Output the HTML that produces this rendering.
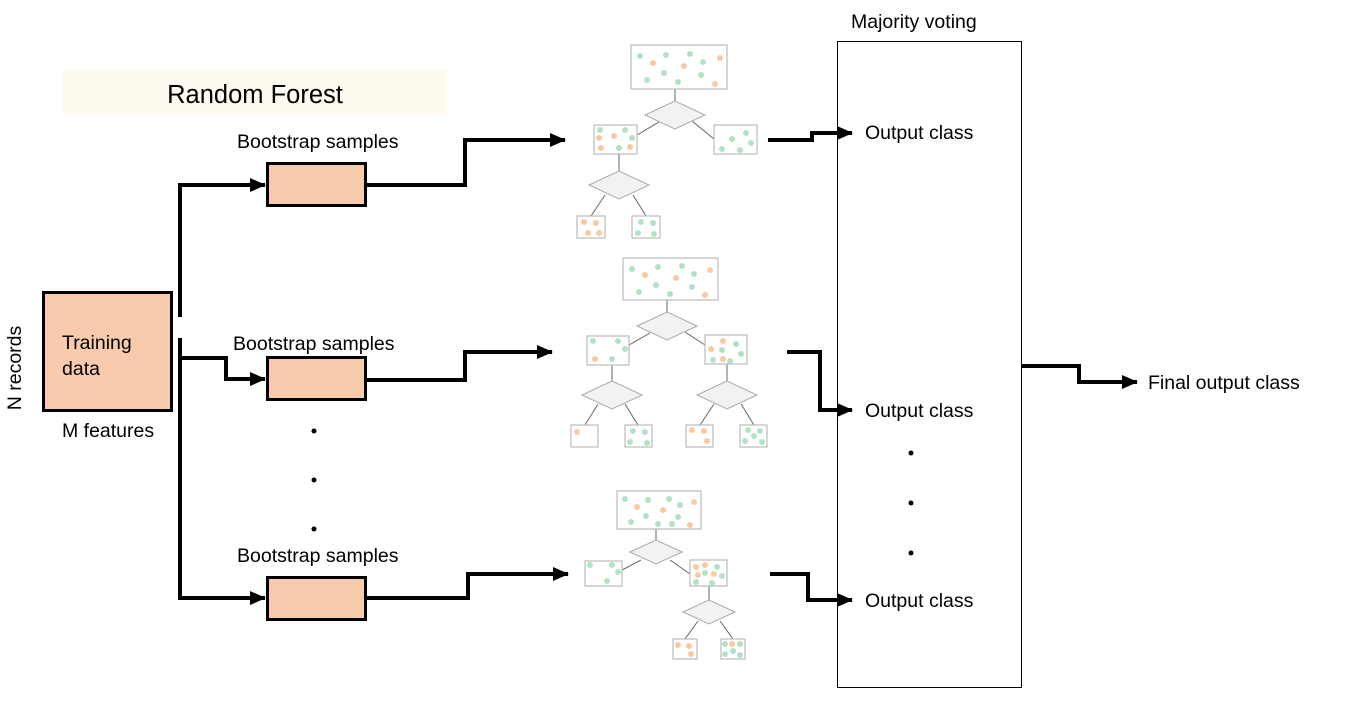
<!DOCTYPE html>
<html><head><meta charset="utf-8"><style>
html,body{margin:0;padding:0;background:#fff;}
svg{display:block;}
text{font-family:"Liberation Sans",sans-serif;fill:#000;}
.t{font-size:19.5px;}
</style></head><body>
<svg width="1369" height="719" viewBox="0 0 1369 719" xmlns="http://www.w3.org/2000/svg">
<defs>
<marker id="ah2" markerWidth="16" markerHeight="14" refX="15" refY="7" orient="auto" markerUnits="userSpaceOnUse">
<path d="M0,0 L16,7 L0,14 z" fill="#000"/></marker>
</defs>

<rect x="62" y="70" width="385" height="45" fill="#fffaf0"/>
<text x="255" y="103" font-size="25.5" text-anchor="middle">Random Forest</text>

<rect x="43.5" y="292.5" width="128" height="118" fill="#f8cbad" stroke="#000" stroke-width="3"/>
<text x="62" y="349" class="t">Training</text>
<text x="62" y="375" class="t">data</text>
<text x="62" y="437" class="t">M features</text>
<text transform="translate(21,368) rotate(-90)" class="t" text-anchor="middle">N records</text>

<g fill="none" stroke="#000" stroke-width="4">
<path d="M180,317 V185 H265" marker-end="url(#ah2)"/>
<path d="M180,338 V598 H265" marker-end="url(#ah2)"/>
<path d="M180,358 H226 V379 H265" marker-end="url(#ah2)"/>
<path d="M366,185 H465 V140 H565" marker-end="url(#ah2)"/>
<path d="M366,380 H465 V352 H552" marker-end="url(#ah2)"/>
<path d="M366,598 H468 V574 H568" marker-end="url(#ah2)"/>
<path d="M768,140 H812 V133 H852" marker-end="url(#ah2)"/>
<path d="M787,352 H820 V410 H852" marker-end="url(#ah2)"/>
<path d="M770,574 H808 V600 H852" marker-end="url(#ah2)"/>
<path d="M1022,366 H1079 V382 H1137" marker-end="url(#ah2)"/>
</g>

<g fill="#f8cbad" stroke="#000" stroke-width="3">
<rect x="267.5" y="163.5" width="98" height="42"/>
<rect x="267.5" y="357.5" width="98" height="42"/>
<rect x="267.5" y="577.5" width="98" height="42"/>
</g>
<text x="237" y="148" class="t">Bootstrap samples</text>
<text x="233" y="350" class="t">Bootstrap samples</text>
<text x="237" y="562" class="t">Bootstrap samples</text>

<g fill="#000">
<circle cx="314" cy="431" r="2.5"/><circle cx="314" cy="480" r="2.5"/><circle cx="314" cy="529" r="2.5"/>
<circle cx="911" cy="453" r="2.5"/><circle cx="911" cy="503" r="2.5"/><circle cx="911" cy="553" r="2.5"/>
</g>

<rect x="837.5" y="41.5" width="184" height="646" fill="none" stroke="#000" stroke-width="1"/>
<text x="851" y="28" class="t">Majority voting</text>
<text x="865" y="139" class="t">Output class</text>
<text x="865" y="417" class="t">Output class</text>
<text x="865" y="607" class="t">Output class</text>
<text x="1148" y="389" class="t">Final output class</text>

<g stroke="#666" stroke-width="1" fill="none">
<path d="M675,89 V101 M659,122 L637,135 M692,121 L714,139 M619,154 V171 M605,195 L591,216 M633,195 L646,216"/>
<path d="M667,300 V312 M650,333 L629,345 M685,332 L705,345 M612,365 V381 M727,364 V381 M598,404 L585,425 M625,404 L638,425 M714,404 L700,425 M741,404 L754,425"/>
<path d="M656,529 V540 M641,560 L622,570 M670,560 L690,574 M709,586 V600 M698,621 L685,639 M720,621 L733,639"/>
</g>
<g fill="#f2f2f2" stroke="#aaa" stroke-width="1">
<polygon points="645,115 675,101 705,115 675,129"/>
<polygon points="589,185 619,171 649,185 619,199"/>
<polygon points="637,326 667,312 697,326 667,340"/>
<polygon points="582,395 612,381 642,395 612,409"/>
<polygon points="697,395 727,381 757,395 727,409"/>
<polygon points="630,552 656,540 682,552 656,564"/>
<polygon points="683,612 709,600 735,612 709,624"/>
</g>
<g fill="#fff" stroke="#bbb" stroke-width="1.2">
<rect x="631" y="45" width="96" height="44"/>
<rect x="594" y="125" width="43" height="29"/>
<rect x="714" y="125" width="43" height="29"/>
<rect x="577" y="216" width="28" height="22"/>
<rect x="632" y="216" width="28" height="22"/>
<rect x="623" y="258" width="95" height="42"/>
<rect x="587" y="336" width="42" height="29"/>
<rect x="705" y="335" width="42" height="29"/>
<rect x="571" y="425" width="27" height="22"/>
<rect x="625" y="425" width="27" height="22"/>
<rect x="686" y="425" width="27" height="22"/>
<rect x="740" y="425" width="27" height="22"/>
<rect x="617" y="491" width="84" height="38"/>
<rect x="585" y="561" width="37" height="25"/>
<rect x="690" y="560" width="37" height="26"/>
<rect x="673" y="639" width="24" height="20"/>
<rect x="721" y="639" width="24" height="20"/>
</g>
<g fill="#b3e3c4">
<circle cx="640" cy="56" r="3"/><circle cx="666" cy="55" r="3"/><circle cx="690" cy="54" r="3"/><circle cx="703" cy="62" r="3"/><circle cx="664" cy="73" r="3"/><circle cx="647" cy="80" r="3"/><circle cx="678" cy="82" r="3"/><circle cx="701" cy="75" r="3"/>
<circle cx="600" cy="130" r="3"/><circle cx="625" cy="130" r="3"/><circle cx="632" cy="138" r="3"/><circle cx="619" cy="148" r="3"/>
<circle cx="746" cy="133" r="3"/><circle cx="732" cy="139" r="3"/><circle cx="751" cy="143" r="3"/><circle cx="722" cy="149" r="3"/><circle cx="740" cy="150" r="3"/>
<circle cx="641" cy="222" r="3"/><circle cx="653" cy="223" r="3"/><circle cx="638" cy="233" r="3"/><circle cx="654" cy="234" r="3"/>
<circle cx="632" cy="269" r="3"/><circle cx="658" cy="267" r="3"/><circle cx="682" cy="266" r="3"/><circle cx="694" cy="274" r="3"/><circle cx="656" cy="285" r="3"/><circle cx="639" cy="292" r="3"/><circle cx="670" cy="294" r="3"/><circle cx="692" cy="287" r="3"/>
<circle cx="593" cy="341" r="3"/><circle cx="618" cy="341" r="3"/><circle cx="625" cy="349" r="3"/><circle cx="612" cy="359" r="3"/>
<circle cx="736" cy="344" r="3"/><circle cx="722" cy="350" r="3"/><circle cx="741" cy="354" r="3"/><circle cx="713" cy="360" r="3"/><circle cx="730" cy="361" r="3"/>
<circle cx="633" cy="431" r="3"/><circle cx="645" cy="432" r="3"/><circle cx="630" cy="442" r="3"/><circle cx="647" cy="443" r="3"/>
<circle cx="748" cy="430" r="3"/><circle cx="760" cy="431" r="3"/><circle cx="754" cy="436" r="3"/><circle cx="745" cy="441" r="3"/><circle cx="762" cy="442" r="3"/>
<circle cx="625" cy="499" r="3"/><circle cx="648" cy="500" r="3"/><circle cx="669" cy="499" r="3"/><circle cx="680" cy="505" r="3"/><circle cx="646" cy="516" r="3"/><circle cx="631" cy="522" r="3"/><circle cx="658" cy="524" r="3"/><circle cx="672" cy="524" r="3"/><circle cx="678" cy="517" r="3"/>
<circle cx="590" cy="565" r="3"/><circle cx="612" cy="565" r="3"/><circle cx="618" cy="572" r="3"/><circle cx="607" cy="581" r="3"/>
<circle cx="717" cy="567" r="3"/><circle cx="705" cy="573" r="3"/><circle cx="722" cy="576" r="3"/><circle cx="696" cy="582" r="3"/><circle cx="712" cy="583" r="3"/>
<circle cx="725" cy="644" r="3"/><circle cx="740" cy="644" r="3"/><circle cx="725" cy="654" r="3"/><circle cx="733" cy="651" r="3"/><circle cx="740" cy="655" r="3"/>
</g>
<g fill="#f9c9a4">
<circle cx="653" cy="63" r="3"/><circle cx="684" cy="66" r="3"/><circle cx="720" cy="58" r="3"/><circle cx="715" cy="84" r="3"/>
<circle cx="599" cy="138" r="3"/><circle cx="614" cy="136" r="3"/><circle cx="601" cy="148" r="3"/><circle cx="630" cy="147" r="3"/>
<circle cx="584" cy="222" r="3"/><circle cx="596" cy="223" r="3"/><circle cx="588" cy="233" r="3"/><circle cx="599" cy="233" r="3"/>
<circle cx="645" cy="275" r="3"/><circle cx="676" cy="278" r="3"/><circle cx="710" cy="270" r="3"/><circle cx="705" cy="295" r="3"/>
<circle cx="595" cy="359" r="3"/>
<circle cx="723" cy="341" r="3"/><circle cx="711" cy="349" r="3"/><circle cx="723" cy="359" r="3"/>
<circle cx="577" cy="432" r="3"/>
<circle cx="692" cy="430" r="3"/><circle cx="704" cy="431" r="3"/><circle cx="707" cy="441" r="3"/>
<circle cx="637" cy="507" r="3"/><circle cx="663" cy="510" r="3"/><circle cx="694" cy="502" r="3"/><circle cx="690" cy="525" r="3"/>
<circle cx="696" cy="567" r="3"/><circle cx="705" cy="565" r="3"/><circle cx="698" cy="575" r="3"/><circle cx="714" cy="574" r="3"/>
<circle cx="678" cy="645" r="3"/><circle cx="689" cy="646" r="3"/><circle cx="691" cy="654" r="3"/>
<circle cx="732" cy="644" r="3"/>
</g>
</svg>
</body></html>
